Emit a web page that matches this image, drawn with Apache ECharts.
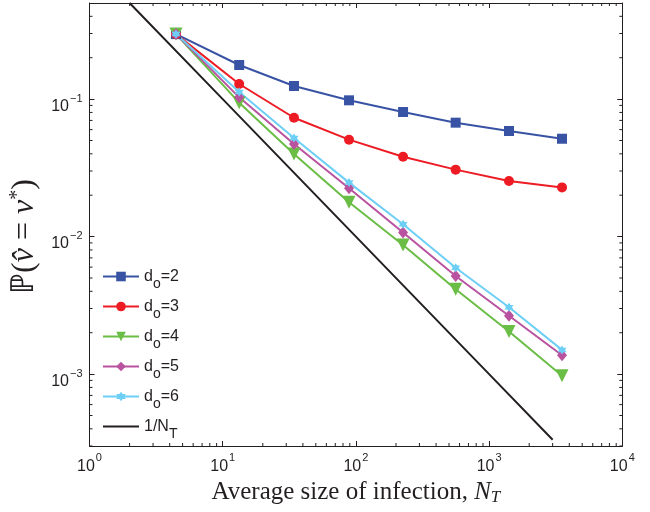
<!DOCTYPE html>
<html>
<head>
<meta charset="utf-8">
<script src="https://cdn.jsdelivr.net/npm/echarts@6/dist/echarts.min.js"></script>
<style>
  html, body { margin: 0; background: #fff; }
  #chart { width: 650px; height: 512px; }
</style>
</head>
<body>
<div id="chart"></div>
<script>
const sizes = [4.46, 13.3, 34.3, 88.8, 226, 561, 1410, 3527];
const d2 = [0.297, 0.177, 0.1245, 0.098, 0.0806, 0.0674, 0.0586, 0.0515];
const d3 = [0.297, 0.1288, 0.0732, 0.0507, 0.0381, 0.0307, 0.0254, 0.0228];
const d4 = [0.297, 0.0942, 0.0399, 0.0178, 0.00869, 0.00414, 0.00204, 0.000973];
const d5 = [0.297, 0.103, 0.0472, 0.0225, 0.0107, 0.00517, 0.00266, 0.00137];
const d6 = [0.297, 0.1127, 0.0521, 0.0247, 0.0123, 0.00594, 0.00306, 0.0015];
const refSizes = [2, 10, 100, 1000, 3000];
const refValues = [0.5, 0.1, 0.01, 0.001, 0.000333];

const seriesNames = ["d_o=2", "d_o=3", "d_o=4", "d_o=5", "d_o=6", "1/N_T"];
const legendLabels = ["d{sub|o}=2", "d{sub|o}=3", "d{sub|o}=4", "d{sub|o}=5", "d{sub|o}=6", "1/N{sub|T}"];

const xMinorTicks = [2, 3, 4, 5, 6, 7, 8, 9, 20, 30, 40, 50, 60, 70, 80, 90,
  200, 300, 400, 500, 600, 700, 800, 900, 2000, 3000, 4000, 5000, 6000, 7000, 8000, 9000];
const yMinorTicks = [0.0003, 0.0004, 0.0005, 0.0006, 0.0007, 0.0008, 0.0009,
  0.002, 0.003, 0.004, 0.005, 0.006, 0.007, 0.008, 0.009,
  0.02, 0.03, 0.04, 0.05, 0.06, 0.07, 0.08, 0.09, 0.2, 0.3, 0.4];

const ink = "#231f20";
const hexagram = "path://M0,-1 L0.289,-0.5 L0.866,-0.5 L0.577,0 L0.866,0.5 L0.289,0.5 L0,1 L-0.289,0.5 L-0.866,0.5 L-0.577,0 L-0.866,-0.5 L-0.289,-0.5 Z";

function pairs(xs, ys) {
  return xs.map((x, i) => [x, ys[i]]);
}

function powerLabel(v) {
  const e = Math.round(Math.log10(v));
  return "{base|10}{exp|" + String(e).replace("-", "\u2212") + "}";
}

const tickStyle = { stroke: ink, lineWidth: 1 };

function xMinorItem(params, api) {
  const p = api.coord([api.value(0), 0.01]);
  const cs = params.coordSys;
  const bottom = cs.y + cs.height;
  return {
    type: "group",
    children: [
      { type: "line", shape: { x1: p[0], y1: bottom, x2: p[0], y2: bottom - 3 }, style: tickStyle },
      { type: "line", shape: { x1: p[0], y1: cs.y, x2: p[0], y2: cs.y + 3 }, style: tickStyle },
    ],
  };
}

function yMinorItem(params, api) {
  const p = api.coord([10, api.value(1)]);
  const cs = params.coordSys;
  const right = cs.x + cs.width;
  return {
    type: "group",
    children: [
      { type: "line", shape: { x1: cs.x, y1: p[1], x2: cs.x + 3, y2: p[1] }, style: tickStyle },
      { type: "line", shape: { x1: right, y1: p[1], x2: right - 3, y2: p[1] }, style: tickStyle },
    ],
  };
}

function lineSeries(name, data, color, symbol, symbolSize, extra) {
  return Object.assign({
    name: name,
    type: "line",
    data: data,
    symbol: symbol,
    symbolSize: symbolSize,
    showAllSymbol: true,
    lineStyle: { color: color, width: 2 },
    itemStyle: { color: color, borderWidth: 0 },
    emphasis: { disabled: true },
    animation: false,
    z: 3,
  }, extra || {});
}

const labelRichX = {
  base: { fontSize: 16, lineHeight: 16, fontFamily: "Liberation Sans", color: ink, padding: [7, 0, 0, 0], verticalAlign: "top" },
  exp: { fontSize: 11, lineHeight: 11, fontFamily: "Liberation Sans", color: ink, verticalAlign: "top", padding: [0, 0, 0, 1] },
};
const labelRichY = {
  base: { fontSize: 16, lineHeight: 16, fontFamily: "Liberation Sans", color: ink, padding: [7, 0, 7, 0], verticalAlign: "top" },
  exp: { fontSize: 11, lineHeight: 11, fontFamily: "Liberation Sans", color: ink, verticalAlign: "top", padding: [2, 0, 0, 1] },
};

const axisLine = { show: true, lineStyle: { color: ink, width: 1 } };
const majorTick = { show: true, inside: true, length: 5, lineStyle: { color: ink, width: 1 } };

const chart = echarts.init(document.getElementById("chart"));
chart.setOption({
  animation: false,
  grid: { left: 89.5, right: 27.7, top: 3, bottom: 66, containLabel: false, outerBoundsMode: "none" },
  legend: {
    data: seriesNames.slice(0, 5).concat([{ name: seriesNames[5], itemStyle: { opacity: 0 } }]),
    orient: "vertical",
    left: 102,
    top: 268,
    padding: 0,
    itemWidth: 36,
    itemHeight: 12,
    itemGap: 7,
    selectedMode: false,
    formatter: (name) => legendLabels[seriesNames.indexOf(name)],
    textStyle: {
      rich: {
        sub: { fontSize: 14, lineHeight: 14, fontFamily: "Liberation Sans", color: ink, padding: [9, 0, 0, 0], verticalAlign: "top" },
      },
      fontSize: 16,
      lineHeight: 17,
      fontFamily: "Liberation Sans",
      color: ink,
      verticalAlign: "top",
    },
  },
  xAxis: [
    {
      type: "log",
      min: 1,
      max: 10000,
      axisLine: axisLine,
      axisTick: majorTick,
      splitLine: { show: false },
      axisLabel: { formatter: powerLabel, rich: labelRichX, fontSize: 16, fontFamily: "Liberation Sans", color: ink, margin: 6 },
      name: "{n|Average size of infection, }{i|N}{t|T}",
      nameLocation: "middle",
      nameGap: 31,
      nameTextStyle: {
        rich: {
          n: { fontSize: 25, fontFamily: "Liberation Serif", color: ink },
          i: { fontSize: 25, fontFamily: "Liberation Serif", fontStyle: "italic", color: ink },
          t: { fontSize: 17, fontFamily: "Liberation Serif", fontStyle: "italic", color: ink, padding: [10, 0, 0, 0] },
        },
      },
    },
    {
      type: "log",
      position: "top",
      min: 1,
      max: 10000,
      axisLine: axisLine,
      axisTick: majorTick,
      axisLabel: { show: false },
      splitLine: { show: false },
    },
  ],
  yAxis: [
    {
      type: "log",
      min: 0.0003,
      max: 0.5,
      axisLine: axisLine,
      axisTick: majorTick,
      splitLine: { show: false },
      axisLabel: { formatter: powerLabel, rich: labelRichY, fontSize: 16, fontFamily: "Liberation Sans", color: ink, margin: 7, showMinLabel: false, showMaxLabel: false },
      name: "{n|\u2119(}{i|v\u0302}{n| = }{i|v}{s|*}{n|)}",
      nameLocation: "middle",
      nameGap: 35,
      nameTextStyle: {
        padding: [0, 24, 0, 0],
        rich: {
          n: { fontSize: 32, fontFamily: "Liberation Serif", color: ink },
          i: { fontSize: 32, fontFamily: "Liberation Serif", fontStyle: "italic", color: ink },
          s: { fontSize: 20, fontFamily: "Liberation Serif", color: ink, verticalAlign: "top", padding: [0, 0, 14, 0] },
        },
      },
    },
    {
      type: "log",
      position: "right",
      min: 0.0003,
      max: 0.5,
      axisLine: axisLine,
      axisTick: majorTick,
      axisLabel: { show: false },
      splitLine: { show: false },
    },
  ],
  series: [
    lineSeries(seriesNames[0], pairs(sizes, d2), "#3953a4", "rect", 10),
    lineSeries(seriesNames[1], pairs(sizes, d3), "#ed1c24", "circle", 10),
    lineSeries(seriesNames[2], pairs(sizes, d4), "#6abd45", "triangle", 13, { symbolRotate: 180 }),
    lineSeries(seriesNames[3], pairs(sizes, d5), "#b9529f", "diamond", [10, 12]),
    lineSeries(seriesNames[4], pairs(sizes, d6), "#6dcff6", hexagram, 9),
    lineSeries(seriesNames[5], pairs(refSizes, refValues), ink, "none", 0),
    {
      type: "custom",
      renderItem: xMinorItem,
      data: xMinorTicks.map((v) => [v, 0.01]),
      silent: true,
      clip: false,
      z: 1,
    },
    {
      type: "custom",
      renderItem: yMinorItem,
      data: yMinorTicks.map((v) => [10, v]),
      silent: true,
      clip: false,
      z: 1,
    },
  ],
});
</script>
</body>
</html>
